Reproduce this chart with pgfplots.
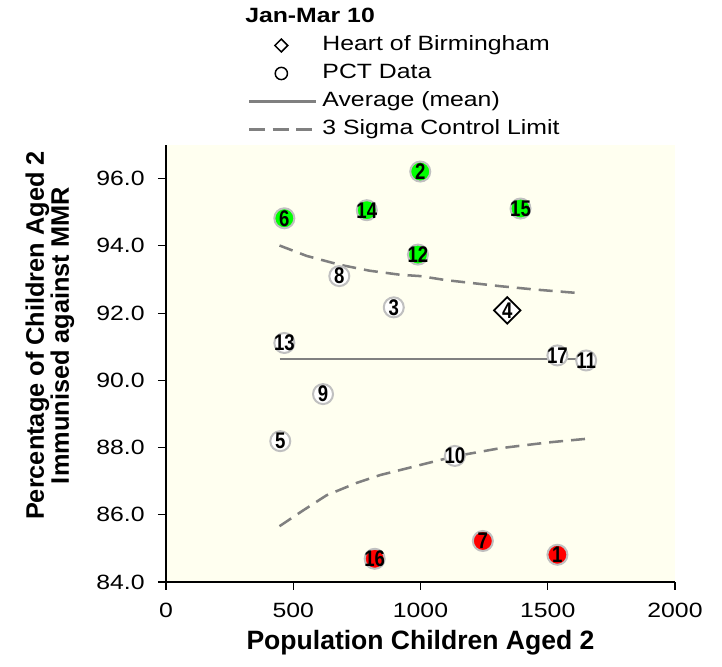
\documentclass[border=0pt]{standalone}
\usepackage{pgfplots}
\usepackage{pgfplotstable}
\pgfplotsset{compat=1.18}
\usepackage{fontspec}
\setmainfont{Liberation Sans}
\newfontfamily\wide{Liberation Sans}[FakeStretch=1.2]
\newfontfamily\narrow{Liberation Sans}[FakeStretch=0.82]

\definecolor{ivory}{RGB}{255,255,240}
\definecolor{ptgreen}{RGB}{0,255,0}
\definecolor{ptred}{RGB}{255,0,0}
\definecolor{ring}{RGB}{192,192,192}
\definecolor{limgray}{RGB}{128,128,128}

% PCT points: population, % immunised, label
\pgfplotstableread{
x y lab
999 96.21 2
465 94.82 6
789 95.06 14
990 93.74 12
1393 95.11 15
}\greenpts
\pgfplotstableread{
x y lab
681 93.10 8
895 92.17 3
465 91.11 13
617 89.59 9
449 88.19 5
1538 90.74 17
1651 90.59 11
1135 87.75 10
}\whitepts
\pgfplotstableread{
x y lab
820 84.69 16
1245 85.22 7
1538 84.81 1
}\redpts
\pgfplotstableread{
x y lab
1341 92.08 4
}\heartpt
% control limits
\pgfplotstableread{
x y
446 94.01
553 93.70
681 93.44
800 93.26
920 93.14
999 93.10
1100 92.98
1313 92.80
1450 92.70
1613 92.60
}\uppercl
\pgfplotstableread{
x y
446 85.66
539 86.13
631 86.58
750 86.95
841 87.18
1025 87.53
1135 87.74
1313 87.98
1500 88.15
1652 88.26
}\lowercl

\pgfplotsset{
  pct/.style={forget plot, only marks, mark=*, mark size=7.5pt,
    mark options={draw=ring, fill=#1, line width=1.5pt},
    nodes near coords, point meta=explicit symbolic,
    nodes near coords style={anchor=center, inner sep=0pt, text=black,
      font=\narrow\bfseries\fontsize{17}{17}\selectfont}},
}

\begin{document}
\begin{tikzpicture}
\begin{axis}[
  name=ax,
  scale only axis,
  width=381.75pt, height=327.75pt,
  xmin=0, xmax=2000, ymin=84, ymax=97,
  xtick={0,500,1000,1500,2000},
  ytick={84,86,88,90,92,94,96},
  axis x line*=bottom, axis y line*=left,
  axis line style={-, black, line width=0.8pt},
  tick align=outside, major tick length=6pt,
  tick style={black, line width=0.8pt},
  axis background/.style={fill=ivory},
  scaled ticks=false,
  /pgf/number format/1000 sep={},
  /pgf/number format/assume math mode=true,
  yticklabel style={xshift=-6.5pt, /pgf/number format/.cd, fixed, fixed zerofill, precision=1},
  xticklabel style={yshift=-6pt},
  tick label style={font=\wide\fontsize{15.5}{18}\selectfont},
  title={Jan-Mar 10},
  title style={at={(axis description cs:0.283,1.263)}, anchor=base,
    font=\wide\bfseries\fontsize{15.5}{18}\selectfont},
  xlabel={Population Children Aged 2},
  ylabel={Percentage of Children Aged 2\\Immunised against MMR},
  xlabel style={at={(axis description cs:0.5,-0.138)}, anchor=center,
    font=\bfseries\fontsize{19.9}{20}\selectfont},
  ylabel style={at={(axis description cs:-0.228,0.564)}, anchor=center, align=center,
    font=\bfseries\fontsize{19}{18.75}\selectfont},
  legend style={at={(axis description cs:0.161,1.012)}, anchor=south west,
    draw=none, fill=none, inner sep=0pt,
    font=\wide\fontsize{15.5}{18}\selectfont,
    nodes={inner sep=0pt, text height=11.5pt, text depth=3.5pt},
    row sep=6pt,
    /tikz/every odd column/.append style={column sep=4pt}},
  legend cell align=left,
  legend image code/.code={\draw[mark repeat=2,mark phase=2] plot coordinates {(0pt,0pt) (24pt,0pt) (50pt,0pt)};},
]
\addlegendimage{only marks, mark=square*, mark size=3.4pt,
  mark options={rotate=45, fill=white, draw=black, line width=1.1pt}}
\addlegendimage{only marks, mark=o, mark size=4.6pt,
  mark options={draw=black, line width=1.1pt}}
\addlegendimage{limgray, line width=1.7pt}
\addlegendimage{limgray, line width=1.7pt, dash pattern=on 12pt off 5.5pt}

% average and control limits
\addplot[forget plot, limgray, line width=2pt] coordinates {(446,90.63) (1652,90.63)};
\addplot[forget plot, limgray, line width=1.9pt, dash pattern=on 10.5pt off 6pt] table {\uppercl};
\addplot[forget plot, limgray, line width=1.9pt, dash pattern=on 10.5pt off 6pt] table {\lowercl};

% points
\addplot[pct=ptgreen] table[meta=lab] {\greenpts};
\addplot[pct=white] table[meta=lab] {\whitepts};
\addplot[pct=ptred] table[meta=lab] {\redpts};
\addplot[forget plot, only marks, mark=square*, mark size=7pt,
  mark options={rotate=45, fill=white, draw=black, line width=1.3pt},
  nodes near coords, point meta=explicit symbolic,
  nodes near coords style={anchor=center, inner sep=0pt, text=black,
    font=\narrow\bfseries\fontsize{17}{17}\selectfont}] table[meta=lab] {\heartpt};

\legend{Heart of Birmingham, PCT Data, Average (mean), 3 Sigma Control Limit}
\end{axis}
\pgfresetboundingbox
\path ([shift={(-124.5pt,-63.75pt)}]ax.south west) rectangle ([shift={(417pt,436.5pt)}]ax.south west);
\end{tikzpicture}
\end{document}
